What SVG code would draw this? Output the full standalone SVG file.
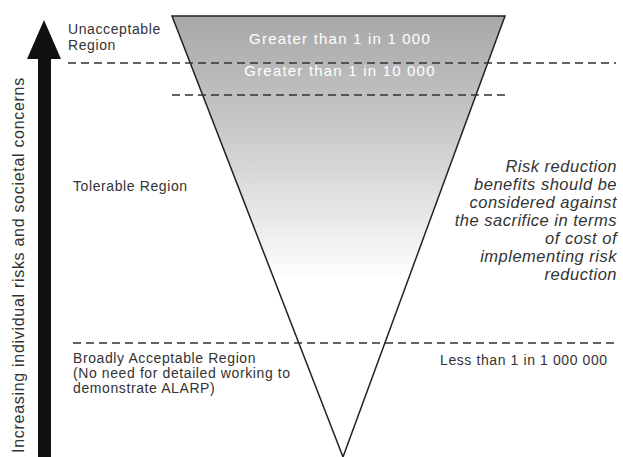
<svg xmlns="http://www.w3.org/2000/svg" width="623" height="457" viewBox="0 0 623 457">
<style>
.lbl{font-family:"Liberation Sans",Arial,sans-serif;font-size:14px;letter-spacing:0.6px;fill:#333}
.wt{font-family:"Liberation Sans",Arial,sans-serif;font-size:15px;letter-spacing:1.2px;fill:#fff;text-anchor:middle}
.it{font-family:"Liberation Sans",Arial,sans-serif;font-size:16.5px;letter-spacing:0.5px;font-style:italic;fill:#333;text-anchor:end}
.dash{stroke:#333;stroke-width:1.6;stroke-dasharray:8,5;fill:none}
</style>
<defs>
<linearGradient id="g" x1="0" y1="16" x2="0" y2="457" gradientUnits="userSpaceOnUse">
<stop offset="0" stop-color="#a8a8a8"/>
<stop offset="0.25" stop-color="#c8c8c8"/>
<stop offset="0.6" stop-color="#ffffff"/>
<stop offset="1" stop-color="#ffffff"/>
</linearGradient>
</defs>
<rect width="623" height="457" fill="#fff"/>
<g id="triangle">
<polygon points="172,16 505,16 343,457" fill="url(#g)" stroke="#222" stroke-width="1.5"/>
<text class="wt" x="340" y="44">Greater than 1 in 1 000</text>
<text class="wt" x="340" y="76">Greater than 1 in 10 000</text>
</g>
<g id="connectors">
<line class="dash" x1="68" y1="63" x2="616" y2="63"/>
<line class="dash" x1="172" y1="95" x2="506" y2="95"/>
<line class="dash" x1="73" y1="343" x2="616" y2="343"/>
</g>
<g id="arrow">
<rect x="38" y="55" width="13" height="402" fill="#111"/>
<polygon points="44,20 61,59 27,59" fill="#111"/>
<text class="lbl" style="font-size:16px;letter-spacing:0.7px" transform="translate(24,265) rotate(-90)" text-anchor="middle">Increasing individual risks and societal concerns</text>
</g>
<g id="unacceptable">
<text class="lbl" x="68" y="34">Unacceptable</text>
<text class="lbl" x="68" y="50">Region</text>
</g>
<g id="tolerable">
<text class="lbl" x="73" y="191">Tolerable Region</text>
</g>
<g id="broadly">
<text class="lbl" x="73" y="363">Broadly Acceptable Region</text>
<text class="lbl" x="73" y="378">(No need for detailed working to</text>
<text class="lbl" x="73" y="393">demonstrate ALARP)</text>
</g>
<g id="risk-reduction">
<text class="it" x="617" y="172">Risk reduction</text>
<text class="it" x="617" y="190">benefits should be</text>
<text class="it" x="617" y="208">considered against</text>
<text class="it" x="617" y="226">the sacrifice in terms</text>
<text class="it" x="617" y="244">of cost of</text>
<text class="it" x="617" y="262">implementing risk</text>
<text class="it" x="617" y="280">reduction</text>
</g>
<g id="less">
<text class="lbl" x="440" y="365">Less than 1 in 1 000 000</text>
</g>
</svg>
